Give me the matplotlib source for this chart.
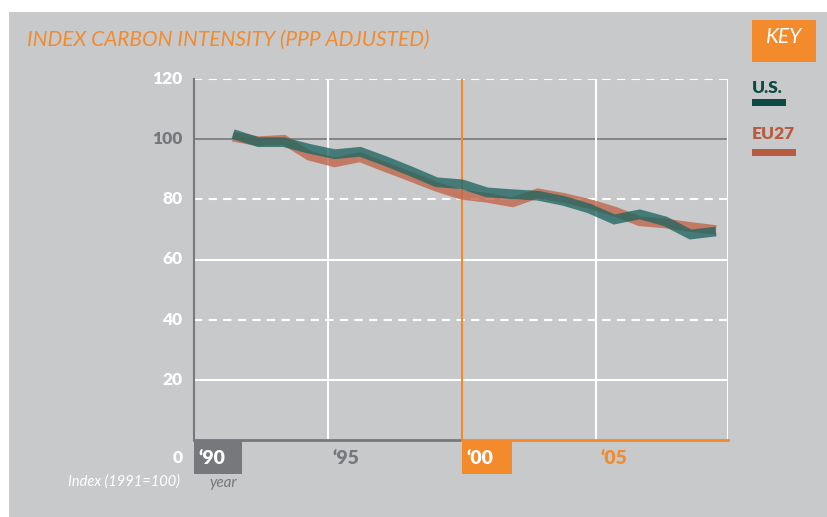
import matplotlib.pyplot as plt
from matplotlib.patches import Rectangle

# index values, 1990-2009
years = list(range(1990, 2010))
us = [101.7, 99.0, 99.0, 96.8, 95.0, 95.8, 92.7, 89.3, 85.7, 85.0,
      82.3, 81.7, 81.2, 79.5, 77.0, 73.3, 75.0, 72.7, 68.3, 69.3]
eu27 = [100.8, 99.3, 99.8, 94.5, 92.3, 94.0, 90.7, 87.5, 84.2, 81.5,
        80.5, 79.0, 82.0, 80.5, 78.5, 76.0, 72.7, 72.0, 70.8, 69.8]

y_ticks = [20, 40, 60, 80, 100, 120]
x_ticks = [1990, 1995, 2000, 2005]
x_labels = ["\u201890", "\u201895", "\u201800", "\u201805"]

BG = '#c8c9cb'
ORANGE = '#f38a2c'
DARKGRAY = '#77787b'
US_COL = '#1f6661'
EU_COL = '#c2664b'
FONT = 'Lato'

W, H = 827, 517
fig = plt.figure(figsize=(W / 100, H / 100), dpi=100)
fig.patch.set_facecolor('white')
fig.patches.append(Rectangle((9 / W, 0), 1, 1 - 12 / H, transform=fig.transFigure,
                             facecolor=BG, edgecolor='none', zorder=-10))

# axes box in pixels: left 194, right 728, top 79, bottom 440
ax = fig.add_axes([194 / W, 1 - 440 / H, (728 - 194) / W, (440 - 79) / H])
ax.set_facecolor('none')
ax.set_xlim(1990, 1990 + (728 - 194) / 26.8)
ax.set_ylim(0, 120)
for s in ax.spines.values():
    s.set_visible(False)
ax.set_xticks([])
ax.set_yticks([])

# horizontal grid
for v in y_ticks:
    if v == 100:
        ax.axhline(v, color=DARKGRAY, lw=1.2, zorder=1)
    elif v % 40 == 0:
        ax.axhline(v, color='white', lw=1.5, ls=(0, (4, 3)), zorder=1)
    else:
        ax.axhline(v, color='white', lw=1.5, zorder=1)
    ax.text(-0.022, v, str(v), transform=ax.get_yaxis_transform(), ha='right', va='center',
            fontsize=12.5, fontweight='heavy', family=FONT,
            color=DARKGRAY if v == 100 else 'white')

# vertical lines
ax.axvline(1995, color='white', lw=1.5, zorder=1)
ax.axvline(2005, color='white', lw=1.5, zorder=1)
ax.axvline(ax.get_xlim()[1], color='white', lw=1.5, zorder=1)
ax.axvline(2000, color=ORANGE, lw=1.5, zorder=2)
ax.plot([1990, 1990], [0, 120], color=DARKGRAY, lw=1.5, zorder=2, clip_on=False)
ax.plot([1990, 2000], [0, 0], color=DARKGRAY, lw=2, zorder=2, clip_on=False)
ax.plot([2000, ax.get_xlim()[1]], [0, 0], color=ORANGE, lw=2, zorder=2, clip_on=False)

# x tick labels
for x, lab in zip(x_ticks, x_labels):
    if x == 1990:
        ax.add_patch(Rectangle((x, -11.3), 1.8, 11.3, facecolor=DARKGRAY, edgecolor='none',
                               clip_on=False, zorder=3))
        col = 'white'
    elif x == 2000:
        ax.add_patch(Rectangle((x, -11.3), 1.87, 11.3, facecolor=ORANGE, edgecolor='none',
                               clip_on=False, zorder=3))
        col = 'white'
    elif x == 1995:
        col = DARKGRAY
    else:
        col = ORANGE
    ax.text(x + 0.15, -6, lab, ha='left', va='center', fontsize=14, fontweight='heavy',
            family=FONT, color=col, zorder=4, clip_on=False)

ax.text(-0.022, -6, '0', transform=ax.get_yaxis_transform(), ha='right', va='center',
        fontsize=12.5, fontweight='heavy', family=FONT, color='white')
fig.text(180 / W, 1 - 482 / H, 'Index (1991=100)', ha='right', va='center', fontsize=10.5,
         style='italic', family=FONT, color='white')
fig.text(209 / W, 1 - 483 / H, 'year', ha='left', va='center', fontsize=11,
         style='italic', family=FONT, color=DARKGRAY)

# data on its own x scale (points drawn from 233px to 716px)
ax2 = fig.add_axes(ax.get_position())
ax2.set_facecolor('none')
ax2.set_xlim(1990 - 39 / 25.4, 2009 + 12 / 25.4)
ax2.set_ylim(0, 120)
ax2.axis('off')
ax2.plot(years, eu27, color=EU_COL, lw=7, alpha=0.8, solid_capstyle='butt',
         solid_joinstyle='miter', zorder=5)
ax2.plot(years, us, color=US_COL, lw=7, alpha=0.78, solid_capstyle='butt',
         solid_joinstyle='miter', zorder=6)

# title
fig.text(27 / W, 1 - 40 / H, 'INDEX CARBON INTENSITY (PPP ADJUSTED)', ha='left', va='center',
         fontsize=15, style='italic', family=FONT, color=ORANGE)

# key
fig.patches.append(Rectangle((752 / W, 1 - 62 / H), 64 / W, 42 / H, transform=fig.transFigure,
                             facecolor=ORANGE, edgecolor='none'))
fig.text(784 / W, 1 - 37 / H, 'KEY', ha='center', va='center', fontsize=15, style='italic',
         family=FONT, color='white')
fig.text(752 / W, 1 - 88 / H, 'U.S.', ha='left', va='center', fontsize=12.5, fontweight='heavy',
         family=FONT, color='#0d4a44')
fig.patches.append(Rectangle((752 / W, 1 - 106 / H), 34 / W, 7 / H, transform=fig.transFigure,
                             facecolor='#0d4a44', edgecolor='none'))
fig.text(752 / W, 1 - 134 / H, 'EU27', ha='left', va='center', fontsize=12.5, fontweight='heavy',
         family=FONT, color='#b85c40')
fig.patches.append(Rectangle((752 / W, 1 - 156 / H), 44 / W, 7 / H, transform=fig.transFigure,
                             facecolor='#b85c40', edgecolor='none'))

fig.savefig('out.png', dpi=100, facecolor=fig.get_facecolor())
